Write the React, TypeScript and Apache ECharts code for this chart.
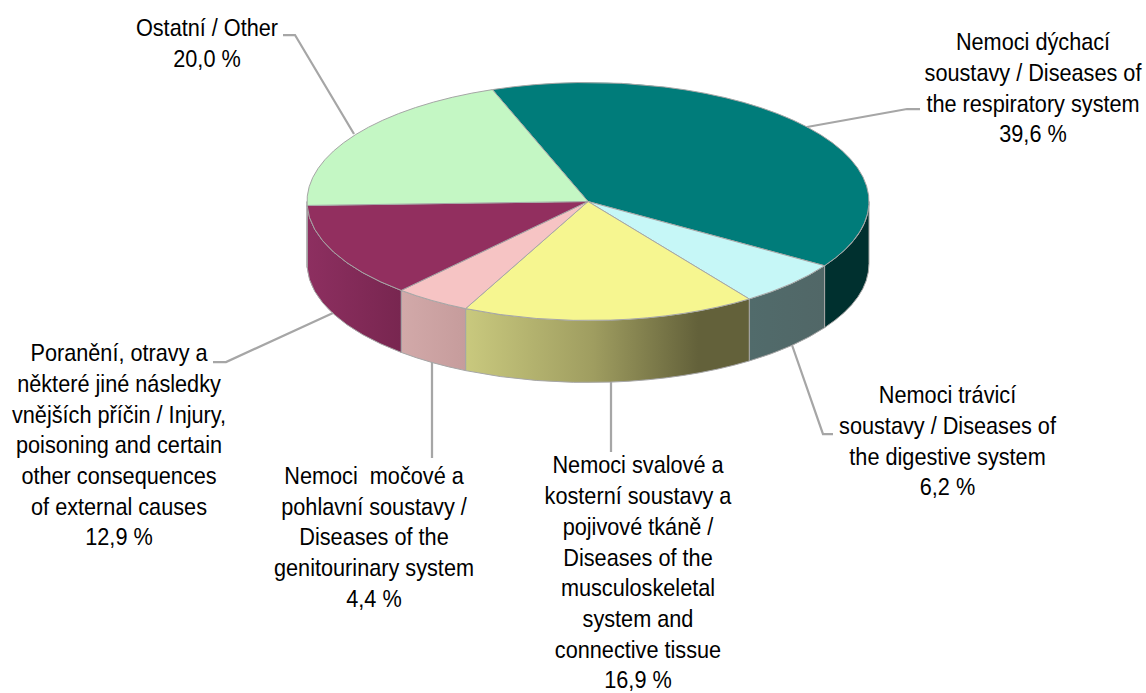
import React, { useEffect, useRef } from "react";
import * as echarts from "echarts";

const categories = [
  ["Nemoci dýchací", "soustavy / Diseases of", "the respiratory system"],
  ["Nemoci trávicí", "soustavy / Diseases of", "the digestive system"],
  ["Nemoci svalové a", "kosterní soustavy a", "pojivové tkáně /", "Diseases of the", "musculoskeletal", "system and", "connective tissue"],
  ["Nemoci  močové a", "pohlavní soustavy /", "Diseases of the", "genitourinary system"],
  ["Poranění, otravy a", "některé jiné následky", "vnějších příčin / Injury,", "poisoning and certain", "other consequences", "of external causes"],
  ["Ostatní / Other"],
];
const shares = [39.6, 6.2, 16.9, 4.4, 12.9, 20.0];
const topColors = ["#007C7A", "#C6F7F7", "#F6F690", "#F6C4C4", "#922F5F", "#C4F7C4"];
const wallStops: [number, string][][] = [
  [[0, "#00302F"], [1, "#00302F"]],
  [[0, "#516B6B"], [1, "#516767"]],
  [[0, "#C9C97E"], [0.45, "#9F9D60"], [0.82, "#63613A"], [1, "#63613A"]],
  [[0, "#D2A9A9"], [1, "#C69C9C"]],
  [[0, "#8D2F60"], [1, "#782650"]],
  [[0, "#8D2F60"], [1, "#8D2F60"]],
];
const labelAnchors = [
  [1033, 88], [947.5, 441], [638, 572.5], [374, 537], [119, 445], [207, 43],
];
const leaderLines = [
  [[920, 109], [907, 109], [807, 127]],
  [[833, 434], [823, 434], [792, 345]],
  [[611, 382], [611, 452]],
  [[432, 362], [432, 458]],
  [[333, 313], [226, 362], [213, 362]],
  [[283, 35], [295, 35], [354, 134]],
];

const CX = 588;
const CY = 201.5;
const RX = 281;
const RY = 119;
const DEPTH = 62;
const START = -19.9;
const LINE_STEP = 30.7;
const BORDER = "#A6A6A6";
const f = (n: number) => n.toFixed(2);

function point(deg: number, dy = 0) {
  const r = (deg * Math.PI) / 180;
  return [CX + RX * Math.sin(r), CY - RY * Math.cos(r) + dy];
}
function sliceAngles(i: number) {
  const total = shares.reduce((a, b) => a + b, 0);
  const before = shares.slice(0, i).reduce((a, b) => a + b, 0);
  return [START + (before / total) * 360, START + ((before + shares[i]) / total) * 360];
}
function topPath(a0: number, a1: number) {
  const p0 = point(a0);
  const p1 = point(a1);
  return `M${CX} ${CY}L${f(p0[0])} ${f(p0[1])}A${RX} ${RY} 0 ${a1 - a0 > 180 ? 1 : 0} 1 ${f(p1[0])} ${f(p1[1])}Z`;
}
function wallPath(a0: number, a1: number) {
  const p0 = point(a0);
  const p1 = point(a1);
  const q0 = point(a0, DEPTH);
  const q1 = point(a1, DEPTH);
  return `M${f(p0[0])} ${f(p0[1])}A${RX} ${RY} 0 0 1 ${f(p1[0])} ${f(p1[1])}L${f(q1[0])} ${f(q1[1])}A${RX} ${RY} 0 0 0 ${f(q0[0])} ${f(q0[1])}Z`;
}

export default function App() {
  const ref = useRef<HTMLDivElement>(null);
  useEffect(() => {
    document.body.style.margin = "0";
    const chart = echarts.init(ref.current!, null, { renderer: "svg" });
    const seriesData = shares.map((v, i) => ({ value: v, name: categories[i].join(" ") }));
    chart.setOption({
      animation: false,
      backgroundColor: "#fff",
      series: [
        {
          type: "custom",
          coordinateSystem: "none",
          silent: true,
          z: 2,
          data: seriesData,
          renderItem: (params: any) => {
            const [a0, a1] = sliceAngles(params.dataIndex);
            const from = Math.max(a0, 90);
            const to = Math.min(a1, 270);
            if (to <= from) return { type: "group", children: [] };
            return {
              type: "path",
              shape: { pathData: wallPath(from, to) },
              style: {
                fill: {
                  type: "linear", x: 0, y: 0, x2: 1, y2: 0,
                  colorStops: wallStops[params.dataIndex].map(([offset, color]) => ({ offset, color })),
                },
                stroke: BORDER,
                lineWidth: 1,
              },
            };
          },
        },
        {
          type: "custom",
          coordinateSystem: "none",
          silent: true,
          z: 3,
          data: seriesData,
          renderItem: (params: any) => {
            const [a0, a1] = sliceAngles(params.dataIndex);
            return {
              type: "path",
              shape: { pathData: topPath(a0, a1) },
              style: { fill: topColors[params.dataIndex], stroke: BORDER, lineWidth: 1 },
            };
          },
        },
      ],
      graphic: [
        ...leaderLines.map((pts) => ({
          type: "polyline",
          z: 5,
          shape: { points: pts },
          style: { stroke: BORDER, lineWidth: 2.25, fill: "none" },
        })),
        ...categories.flatMap((lines, i) => {
          const all = [...lines, `${shares[i].toFixed(1).replace(".", ",")} %`];
          return all.map((text, k) => ({
            type: "text",
            z: 6,
            x: labelAnchors[i][0],
            y: labelAnchors[i][1] + (k - (all.length - 1) / 2) * LINE_STEP,
            scaleX: 0.904,
            style: {
              text,
              font: '24px "Liberation Sans"',
              fill: "#000",
              align: "center",
              verticalAlign: "middle",
            },
          }));
        }),
      ],
    });
    return () => chart.dispose();
  }, []);
  return <div ref={ref} style={{ width: 1146, height: 693 }} />;
}
